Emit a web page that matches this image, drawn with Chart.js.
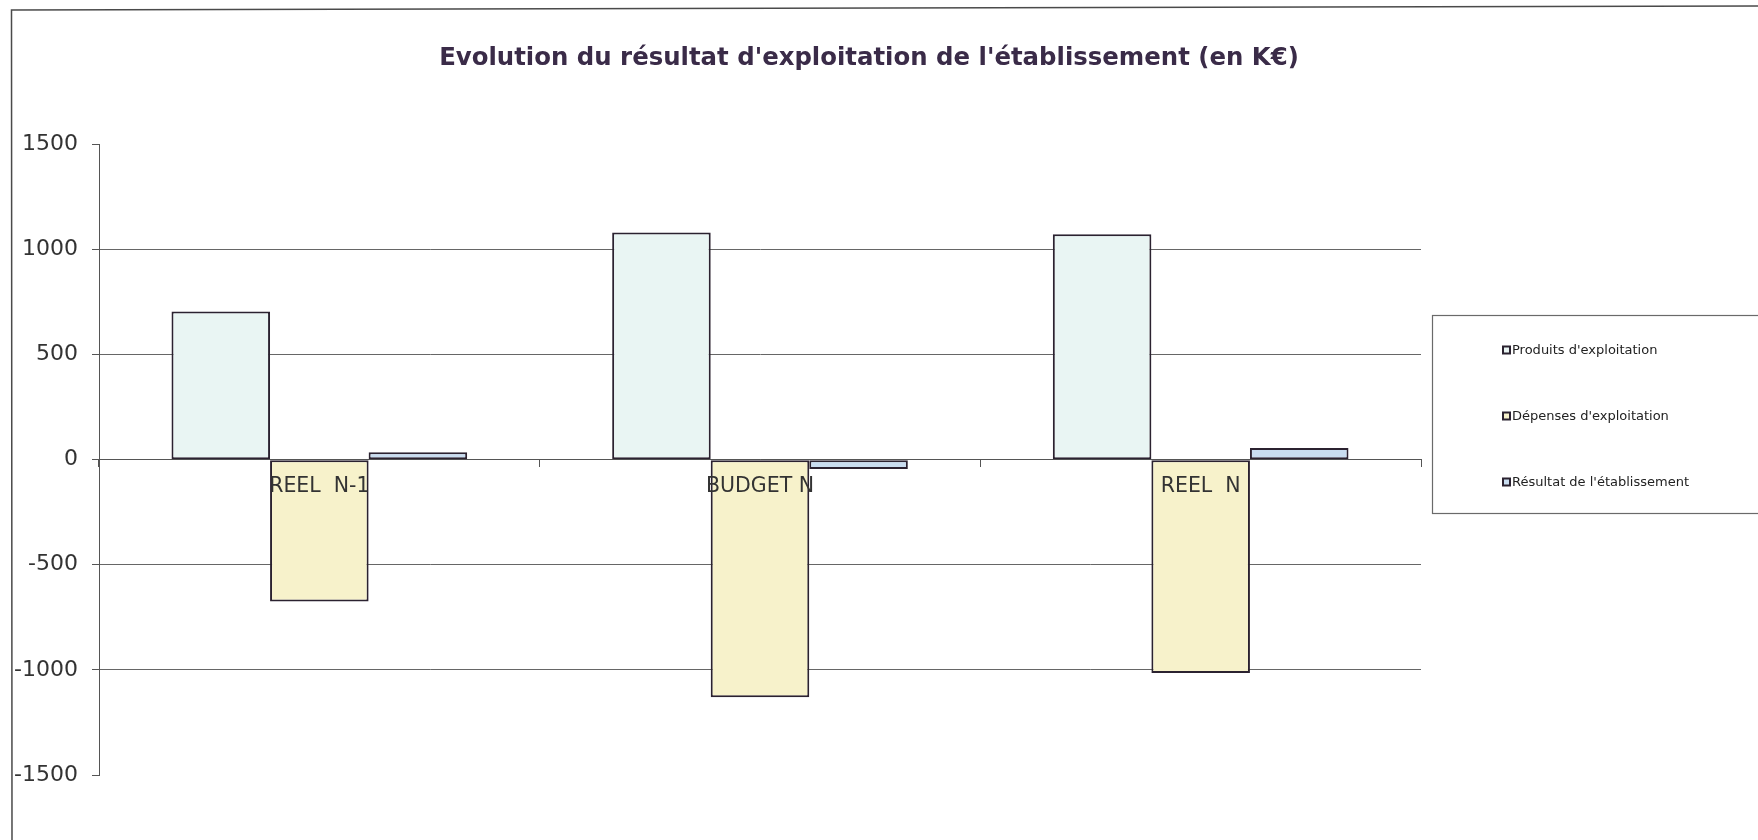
<!DOCTYPE html>
<html>
<head>
<meta charset="utf-8">
<script src="https://cdn.jsdelivr.net/npm/chart.js@4.4.1/dist/chart.umd.min.js"></script>
<style>
html,body{margin:0;padding:0;background:#fff;}
#wrap{width:1758px;height:840px;position:relative;}
</style>
</head>
<body>
<div id="wrap"><canvas id="c" width="1758" height="840"></canvas></div>
<script>
const categories = ["REEL  N-1", "BUDGET N", "REEL  N"];
const seriesNames = ["Produits d'exploitation", "Dépenses d'exploitation", "Résultat de l'établissement"];
const produits = [705, 1080, 1072];
const depenses = [-675, -1130, -1015];
const resultat = [35, -45, 55];
const yTicks = [-1500, -1000, -500, 0, 500, 1000, 1500];
const titleText = "Evolution du résultat d'exploitation de l'établissement (en K€)";

const fills = ['#E9F5F3', '#F7F2CB', '#C9DDF0'];
const edge = '#2b2230';

const frameAndLegend = {
  id: 'frameAndLegend',
  afterLayout(chart) {
    const t = chart.titleBlock;
    if (t) { t.left = 8; t.right = 1730; t.width = t.right - t.left; }
  },
  afterDraw(chart) {
    const ctx = chart.ctx;
    ctx.save();
    ctx.strokeStyle = '#4a4a4a';
    ctx.lineWidth = 1.5;
    ctx.beginPath();
    ctx.moveTo(12, 840);
    ctx.lineTo(11.5, 10);
    ctx.lineTo(1758, 6);
    ctx.stroke();
    ctx.strokeStyle = '#6a6a6a';
    ctx.lineWidth = 1.2;
    ctx.strokeRect(1432.5, 315.5, 340, 198);
    const ys = [350, 416, 482];
    ctx.font = '13px "DejaVu Sans"';
    ctx.textBaseline = 'middle';
    ctx.textAlign = 'left';
    chart.data.datasets.forEach((ds, i) => {
      const y = ys[i];
      ctx.fillStyle = edge;
      ctx.fillRect(1502, y - 4.5, 9, 9);
      ctx.fillStyle = ds.backgroundColor;
      ctx.fillRect(1504, y - 2.5, 5, 5);
      ctx.fillStyle = '#222';
      ctx.fillText(ds.label, 1512, y + 0.5);
    });
    ctx.restore();
  }
};

new Chart(document.getElementById('c'), {
  type: 'bar',
  data: {
    labels: categories,
    datasets: [
      { label: seriesNames[0], data: produits, backgroundColor: fills[0] },
      { label: seriesNames[1], data: depenses, backgroundColor: fills[1] },
      { label: seriesNames[2], data: resultat, backgroundColor: fills[2] }
    ].map(d => Object.assign(d, { borderColor: edge, borderWidth: 2, borderSkipped: false, barPercentage: 1.0, categoryPercentage: 0.671 }))
  },
  options: {
    responsive: false,
    animation: false,
    devicePixelRatio: 1,
    layout: { padding: { left: 12, right: 337, top: 0, bottom: 65 } },
    plugins: {
      legend: { display: false },
      tooltip: { enabled: false },
      title: {
        display: true,
        text: titleText,
        color: '#3a2b48',
        font: { family: 'DejaVu Sans', size: 24.4, weight: 'bold', lineHeight: 1.2 },
        padding: { top: 44, bottom: 71 }
      }
    },
    scales: {
      x: {
        position: { y: 0 },
        grid: { drawOnChartArea: false, drawTicks: true, tickLength: 7, color: '#555', offset: true },
        border: { display: true, color: '#555', width: 1 },
        ticks: { z: 1, color: '#333', font: { family: 'DejaVu Sans', size: 20.5 }, padding: 8, maxRotation: 0, autoSkip: false }
      },
      y: {
        min: yTicks[0],
        max: yTicks[yTicks.length - 1],
        afterFit(scale) { scale.width = 87; },
        afterBuildTicks(scale) { scale.ticks = yTicks.map(v => ({ value: v })); },
        grid: {
          color: c => (c.tick && Math.abs(c.tick.value) === 1500) ? 'rgba(0,0,0,0)' : '#666',
          tickColor: '#555',
          tickLength: 7,
          lineWidth: 1
        },
        border: { display: true, color: '#555', width: 1 },
        ticks: { color: '#333', font: { family: 'DejaVu Sans', size: 22 }, padding: 14, callback: v => String(v) }
      }
    }
  },
  plugins: [frameAndLegend]
});
</script>
</body>
</html>
